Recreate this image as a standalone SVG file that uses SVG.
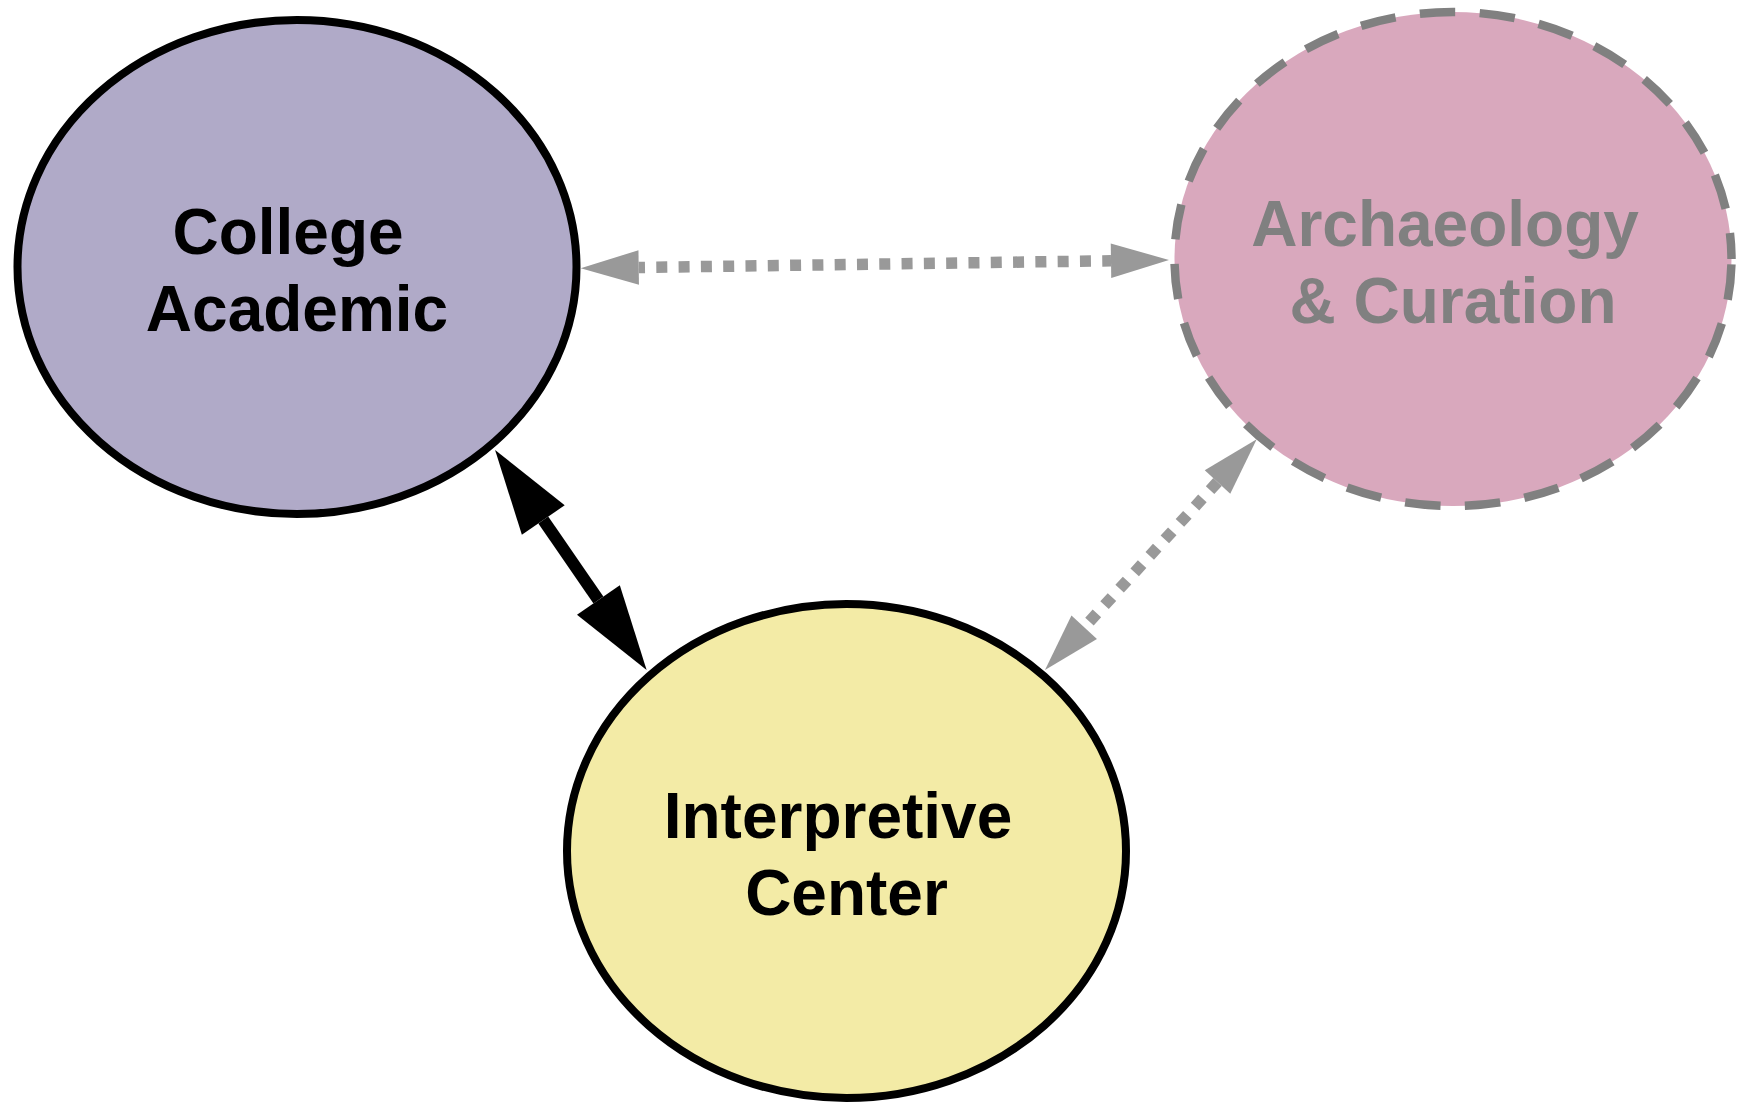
<svg xmlns="http://www.w3.org/2000/svg" width="1741" height="1103" viewBox="0 0 1741 1103">
  <style>
    .node text { font-family: "Liberation Sans", Arial, Helvetica, sans-serif; font-weight: bold; font-size: 64px; text-anchor: middle; }
    .solid ellipse { stroke: #000000; stroke-width: 8; }
    .solid text { fill: #000000; }
    .dashed ellipse { stroke: #808080; stroke-width: 8.5; stroke-dasharray: 35.5 24.5; stroke-dashoffset: -5.5; }
    .dashed text { fill: #808080; }
    .dotted { fill: none; stroke: #999999; stroke-width: 11.5; stroke-dasharray: 11 11.3; stroke-linecap: butt; }
    .bold { fill: none; stroke: #000000; stroke-width: 12; }
  </style>
  <defs>
    <marker id="greyHead" markerUnits="userSpaceOnUse" orient="auto-start-reverse" markerWidth="60" markerHeight="36" refX="0" refY="17.3" overflow="visible">
      <path d="M0,0 L58,17.3 L0,34.6 Z" fill="#999999"/>
    </marker>
    <marker id="blackHead" markerUnits="userSpaceOnUse" orient="auto-start-reverse" markerWidth="86" markerHeight="52" refX="0" refY="26" overflow="visible">
      <path d="M0,0 L85,26 L0,52 Z" fill="#000000"/>
    </marker>
  </defs>
  <rect x="0" y="0" width="1741" height="1103" fill="#ffffff"/>

  <g id="connectors">
    <path id="edge-college-archaeology" class="dotted" d="M638.7,267.5 L1111,260.8" stroke-dashoffset="4.7" marker-start="url(#greyHead)" marker-end="url(#greyHead)"/>
    <path id="edge-college-interpretive" class="bold" d="M543.3,520 L598.4,600" marker-start="url(#blackHead)" marker-end="url(#blackHead)"/>
    <path id="edge-archaeology-interpretive" class="dotted" d="M1217.5,482 L1084.2,627.3" marker-start="url(#greyHead)" marker-end="url(#greyHead)"/>
  </g>

  <g id="node-college" class="node solid">
    <ellipse cx="297" cy="267" rx="279.5" ry="247" fill="#b0aac8"/>
    <text x="288" y="254">College</text>
    <text x="297" y="331">Academic</text>
  </g>

  <g id="node-archaeology" class="node dashed">
    <ellipse cx="1453" cy="259" rx="278.5" ry="247" fill="#d9a8bd"/>
    <text x="1445" y="246">Archaeology</text>
    <text x="1453" y="323">&amp; Curation</text>
  </g>

  <g id="node-interpretive" class="node solid">
    <ellipse cx="846.5" cy="851" rx="279.5" ry="247" fill="#f3eba6"/>
    <text x="838" y="838">Interpretive</text>
    <text x="846.5" y="915">Center</text>
  </g>
</svg>
